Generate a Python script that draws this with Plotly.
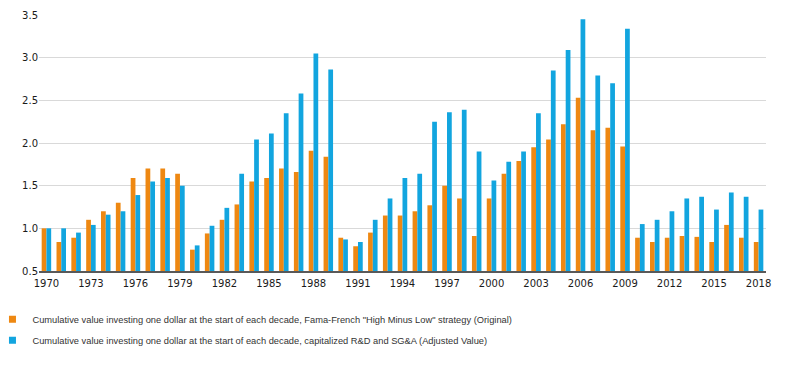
import plotly.graph_objects as go

years = [str(y) for y in range(1970, 2019)]
original = [1.00, 0.84, 0.89, 1.10, 1.20, 1.30, 1.59, 1.70, 1.70, 1.64,
            0.75, 0.94, 1.10, 1.28, 1.55, 1.59, 1.70, 1.66, 1.91, 1.84,
            0.89, 0.79, 0.95, 1.15, 1.15, 1.20, 1.27, 1.50, 1.35, 0.91,
            1.35, 1.64, 1.79, 1.95, 2.04, 2.22, 2.53, 2.15, 2.18, 1.96,
            0.89, 0.84, 0.89, 0.91, 0.90, 0.84, 1.04, 0.89, 0.84]
adjusted = [1.00, 1.00, 0.95, 1.04, 1.16, 1.20, 1.39, 1.55, 1.59, 1.50,
            0.80, 1.03, 1.24, 1.64, 2.04, 2.11, 2.35, 2.58, 3.05, 2.86,
            0.87, 0.84, 1.10, 1.35, 1.59, 1.64, 2.25, 2.36, 2.39, 1.90,
            1.56, 1.78, 1.90, 2.35, 2.85, 3.09, 3.45, 2.79, 2.70, 3.34,
            1.05, 1.10, 1.20, 1.35, 1.37, 1.22, 1.42, 1.37, 1.22]
tick_labels = [str(y) for y in range(1970, 2019, 3)]
series_names = [
    'Cumulative value investing one dollar at the start of each decade, Fama-French "High Minus Low" strategy (Original)',
    'Cumulative value investing one dollar at the start of each decade, capitalized R&D and SG&A (Adjusted Value)',
]
colors = ["#EE8812", "#12A5DF"]

fig = go.Figure()
for i, (vals, name, col) in enumerate(zip([original, adjusted], series_names, colors)):
    fig.add_trace(go.Bar(x=years, y=vals, name=name, marker_color=col,
                         marker_line_width=0, showlegend=False))
    fig.add_trace(go.Scatter(x=[None], y=[None], mode="markers", name=name,
                             legendgroup=f"g{i}",
                             marker=dict(symbol="square", size=7, color=col),
                             showlegend=True))

tickfont = dict(family="DejaVu Sans, Verdana, sans-serif", size=10, color="#1a1a1a")

fig.update_layout(
    width=788, height=377,
    margin=dict(l=38.6, r=21.6, t=15, b=106, autoexpand=False),
    paper_bgcolor="white", plot_bgcolor="white",
    barmode="group", bargap=0.36, bargroupgap=0,
    font=dict(family="Liberation Sans, Arial, sans-serif", color="#333333", size=11),
    xaxis=dict(type="category", tickmode="array", tickvals=tick_labels, ticktext=tick_labels,
               showgrid=False, showline=True, linecolor="#595959", linewidth=1.5,
               ticks="outside", ticklen=2, tickcolor="rgba(0,0,0,0)",
               tickfont=tickfont, tickangle=0, automargin=False),
    yaxis=dict(range=[0.5, 3.5], dtick=0.5, tick0=0.5, tickformat=".1f",
               showgrid=True, gridcolor="#D9D9D9", gridwidth=1,
               zeroline=False, showline=False, automargin=False,
               ticks="", tickfont=tickfont),
    legend=dict(orientation="v", x=-0.064, xanchor="left", y=-0.132, yanchor="top",
                font=dict(size=9.3, color="#333333"), itemwidth=30,
                tracegroupgap=2, bgcolor="rgba(0,0,0,0)"),
)

fig.write_html("out.html", config={"displayModeBar": False},
               post_script="document.body.style.margin='0';")
